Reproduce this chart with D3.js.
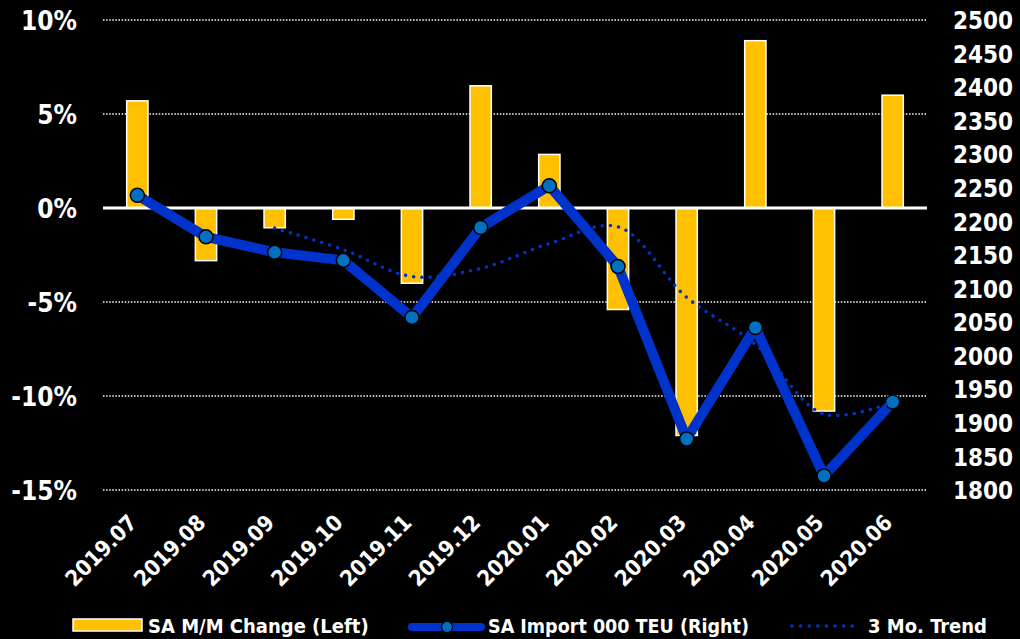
<!DOCTYPE html>
<html>
<head>
<meta charset="utf-8">
<script src="https://cdn.jsdelivr.net/npm/d3@7"></script>
<style>
  html, body { margin: 0; padding: 0; background: #000; }
  svg { display: block; }
  text { font-family: "DejaVu Sans Condensed", "DejaVu Sans", sans-serif; font-weight: bold; fill: #fff; }
</style>
</head>
<body>
<div id="chart"></div>
<script>
// data
const months = ["2019.07", "2019.08", "2019.09", "2019.10", "2019.11", "2019.12",
                "2020.01", "2020.02", "2020.03", "2020.04", "2020.05", "2020.06"];
const momChange = [5.7, -2.8, -1.05, -0.6, -4.0, 6.5, 2.85, -5.4, -12.1, 8.9, -10.8, 6.0]; // % (left)
const importTeu = [2239, 2177, 2154, 2142, 2057, 2191, 2253, 2133, 1876, 2042, 1821, 1931]; // 000 TEU (right)
const trendTeu = [null, null, 2190, 2158, 2118, 2130, 2167, 2192, 2087, 2017, 1913, 1931]; // 3 mo. trend
const leftTicks = [10, 5, 0, -5, -10, -15];
const rightTicks = [1800, 1850, 1900, 1950, 2000, 2050, 2100, 2150, 2200, 2250, 2300, 2350, 2400, 2450, 2500];

class ComboChart {
  constructor(args) {
    this.element = args.element;
    this.width = 1020;
    this.height = 639;
    this.margin = { top: 20, right: 93, bottom: 149, left: 103 };
    this.innerW = this.width - this.margin.left - this.margin.right;
    this.innerH = this.height - this.margin.top - this.margin.bottom;
    this.draw();
  }

  draw() {
    this._svg = d3.select(this.element).append("svg")
      .attr("width", this.width)
      .attr("height", this.height);
    this._svg.append("rect").attr("width", this.width).attr("height", this.height).attr("fill", "#000");
    this._chart = this._svg.append("g")
      .attr("transform", `translate(${this.margin.left},${this.margin.top})`);

    this.createScales();
    this.addGrid();
    this.addBars();
    this.addAxes();
    this.addLine();
    this.addTrend();
    this.addLegend();
  }

  createScales() {
    this._x = d3.scaleBand().domain(months).range([0, this.innerW]);
    this._yLeft = d3.scaleLinear().domain([-15, 10]).range([this.innerH, 0]);
    this._yRight = d3.scaleLinear().domain([1800, 2500]).range([this.innerH, 0]);
  }

  addGrid() {
    this._chart.append("g").selectAll("line")
      .data(leftTicks.filter(d => d !== 0))
      .join("line")
      .attr("x1", 0).attr("x2", this.innerW)
      .attr("y1", d => this._yLeft(d)).attr("y2", d => this._yLeft(d))
      .attr("stroke", "#fff").attr("stroke-width", 1.5)
      .attr("stroke-dasharray", "1.5,1.6");
  }

  addBars() {
    const bw = this._x.bandwidth() * 0.31;
    this._chart.append("g").selectAll("rect")
      .data(momChange)
      .join("rect")
      .attr("x", (d, i) => this._x(months[i]) + this._x.bandwidth() / 2 - bw / 2)
      .attr("y", d => this._yLeft(Math.max(0, d)))
      .attr("width", bw)
      .attr("height", d => Math.abs(this._yLeft(d) - this._yLeft(0)))
      .attr("fill", "#FFC000")
      .attr("stroke", "#fff").attr("stroke-width", 1.5);

    // zero line
    this._chart.append("line")
      .attr("x1", 0).attr("x2", this.innerW)
      .attr("y1", this._yLeft(0)).attr("y2", this._yLeft(0))
      .attr("stroke", "#fff").attr("stroke-width", 3);
  }

  addAxes() {
    const left = this._chart.append("g")
      .attr("transform", "translate(-26,0)")
      .call(d3.axisLeft(this._yLeft).tickValues(leftTicks).tickFormat(d => d + "%").tickSize(0));
    left.select(".domain").remove();
    left.selectAll("text").attr("font-size", 26).attr("dy", "0.36em").attr("x", 0);

    const right = this._chart.append("g")
      .attr("transform", `translate(${this.innerW + 26},0)`)
      .call(d3.axisRight(this._yRight).tickValues(rightTicks).tickFormat(d3.format("d")).tickSize(0));
    right.select(".domain").remove();
    right.selectAll("text").attr("font-size", 24).attr("dy", "0.36em").attr("x", 0);

    const bottom = this._chart.append("g")
      .attr("transform", `translate(0,${this.innerH})`)
      .call(d3.axisBottom(this._x).tickSize(0));
    bottom.select(".domain").remove();
    bottom.selectAll("text")
      .attr("font-size", 22)
      .attr("text-anchor", "end")
      .attr("dy", 0)
      .attr("y", 0)
      .attr("transform", "translate(1,34) rotate(-45)");
  }

  addLine() {
    const cx = i => this._x(months[i]) + this._x.bandwidth() / 2;
    const line = d3.line()
      .x((d, i) => cx(i))
      .y(d => this._yRight(d));
    this._chart.append("path")
      .datum(importTeu)
      .attr("d", line)
      .attr("fill", "none")
      .attr("stroke", "#0033CC")
      .attr("stroke-width", 10)
      .attr("stroke-linejoin", "round");
    this._chart.append("g").selectAll("circle")
      .data(importTeu)
      .join("circle")
      .attr("cx", (d, i) => cx(i))
      .attr("cy", d => this._yRight(d))
      .attr("r", 7)
      .attr("fill", "#0070C0")
      .attr("stroke", "#000").attr("stroke-width", 1.5);
  }

  addTrend() {
    const cx = i => this._x(months[i]) + this._x.bandwidth() / 2;
    const line = d3.line()
      .defined(d => d !== null)
      .x((d, i) => cx(i))
      .y(d => this._yRight(d))
      .curve(d3.curveCatmullRom.alpha(0.5));
    this._chart.append("path")
      .datum(trendTeu)
      .attr("d", line)
      .attr("fill", "none")
      .attr("stroke", "#0033CC")
      .attr("stroke-width", 3.6)
      .attr("stroke-linecap", "round")
      .attr("stroke-dasharray", "0,8.2");
  }

  addLegend() {
    const g = this._svg.append("g");
    const ly = 626;
    g.append("rect").attr("x", 73).attr("y", 619).attr("width", 69).attr("height", 12)
      .attr("fill", "#FFC000").attr("stroke", "#fff").attr("stroke-width", 1.5);
    g.append("text").attr("x", 148).attr("y", ly).attr("dy", "0.36em").attr("font-size", 20)
      .text("SA M/M Change (Left)");

    g.append("line").attr("x1", 412).attr("x2", 481).attr("y1", ly + 1).attr("y2", ly + 1)
      .attr("stroke", "#0033CC").attr("stroke-width", 8).attr("stroke-linecap", "round");
    g.append("circle").attr("cx", 447).attr("cy", ly + 1).attr("r", 5.5)
      .attr("fill", "#0070C0").attr("stroke", "#000").attr("stroke-width", 1.2);
    g.append("text").attr("x", 488).attr("y", ly).attr("dy", "0.36em").attr("font-size", 19.5)
      .text("SA Import 000 TEU (Right)");

    g.append("line").attr("x1", 792).attr("x2", 856).attr("y1", ly).attr("y2", ly)
      .attr("stroke", "#0033CC").attr("stroke-width", 3.6)
      .attr("stroke-linecap", "round").attr("stroke-dasharray", "0,8.6");
    g.append("text").attr("x", 868).attr("y", ly).attr("dy", "0.36em").attr("font-size", 20)
      .text("3 Mo. Trend");
  }
}

new ComboChart({ element: "#chart" });
</script>
</body>
</html>
